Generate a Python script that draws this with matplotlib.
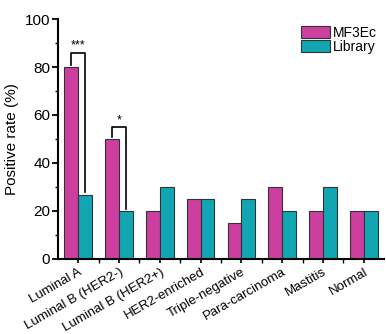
import matplotlib
matplotlib.use("Agg")
import matplotlib.pyplot as plt
import numpy as np
from matplotlib.ticker import MultipleLocator, FixedLocator

plt.rcParams['font.family'] = ['Liberation Sans', 'DejaVu Sans']

categories = ["Luminal A", "Luminal B (HER2-)", "Luminal B (HER2+)", "HER2-enriched",
              "Triple-negative", "Para-carcinoma", "Mastitis", "Normal"]
mf3ec = [80, 50, 20, 25, 15, 30, 20, 20]
library = [26.7, 20, 30, 25, 25, 20, 30, 20]
series_names = ["MF3Ec", "Library"]
yticks = [0, 20, 40, 60, 80, 100]

fig = plt.figure(figsize=(3.86, 3.34), dpi=100)
ax = fig.add_axes([0.150, 0.2246, 0.845, 0.7185])

x = np.arange(len(categories))
w = 0.34
c1 = "#CC3F9F"
c2 = "#12A6B3"
ax.bar(x - w / 2, mf3ec, w, color=c1, edgecolor="#333333", linewidth=0.8, label=series_names[0])
ax.bar(x + w / 2, library, w, color=c2, edgecolor="#333333", linewidth=0.8, label=series_names[1])

ax.set_xlim(-0.5, len(categories) - 0.5)
ax.set_ylim(0, 100)
ax.set_yticks(yticks)
ax.yaxis.set_minor_locator(MultipleLocator(10))
ax.set_xticks(x)
ax.xaxis.set_minor_locator(FixedLocator(np.arange(0.5, len(categories) - 0.5, 1)))
ax.set_xticklabels(categories, rotation=30, ha="right", rotation_mode="anchor", fontsize=9.5)
ax.tick_params(axis="y", labelsize=11, width=1.3, length=4, direction="out", pad=1.5)
ax.tick_params(axis="y", which="minor", width=1.0, length=2.5)
ax.tick_params(axis="x", width=1.2, length=3, direction="out", pad=2)
ax.tick_params(axis="x", which="minor", width=1.0, length=3)
for s in ["top", "right"]:
    ax.spines[s].set_visible(False)
for s in ["left", "bottom"]:
    ax.spines[s].set_linewidth(1.5)
ax.set_ylabel("Positive rate (%)", fontsize=11)
ax.yaxis.set_label_coords(-0.118, 0.5)

# significance brackets
def bracket(i, top, y1, y2, text):
    xl = x[i] - w / 2
    xr = x[i] + w / 2
    ax.plot([xl, xl, xr, xr], [y1, top, top, y2], color="black", lw=1.2)
    ax.text((xl + xr) / 2, top + 0.3, text, ha="center", va="bottom", fontsize=9)

bracket(0, 86, 81, 28, "***")
bracket(1, 55, 51, 21, "*")

leg = ax.legend(loc="upper right", bbox_to_anchor=(1.0, 1.0), fontsize=10, frameon=False,
                handlelength=2.1, handleheight=1.0, labelspacing=0.0, handletextpad=0.2,
                borderaxespad=0.1)

fig.savefig("out.png", dpi=100)
